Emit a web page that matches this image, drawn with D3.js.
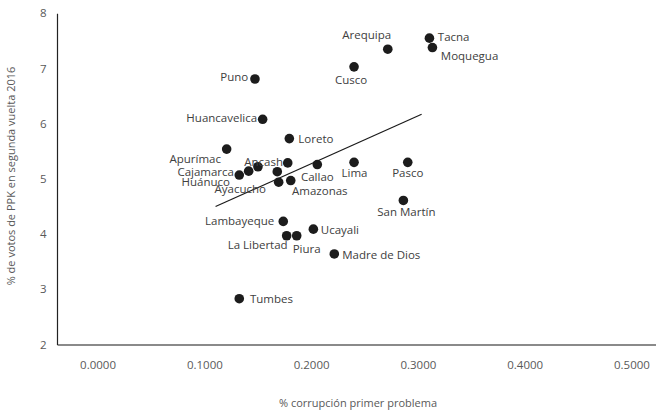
<!DOCTYPE html>
<html>
<head>
<meta charset="utf-8">
<script src="https://cdn.jsdelivr.net/npm/d3@7"></script>
<style>
  body { margin: 0; background: #fff; }
  svg { display: block; font-family: "Open Sans", sans-serif; }
</style>
</head>
<body>
<div class="chart"></div>
<script>
// departments, % corruption as first problem vs % PPK votes (2nd round 2016)
var regions = ["Arequipa", "Tacna", "Moquegua", "Cusco", "Puno", "Huancavelica", "Loreto",
    "Apurímac", "Ancash", "Cajamarca", "Huánuco", "Ayacucho", "Amazonas", "Junín", "Ica",
    "Callao", "Lima", "Pasco", "San Martín", "Lambayeque", "Ucayali", "La Libertad", "Piura",
    "Madre de Dios", "Tumbes"];
var corruption = [0.2718, 0.3108, 0.3136, 0.2402, 0.1474, 0.1546, 0.1796,
    0.1209, 0.1781, 0.1415, 0.1327, 0.1696, 0.1809, 0.1502, 0.1683,
    0.2058, 0.2402, 0.2905, 0.2864, 0.1739, 0.2021, 0.1771, 0.1865,
    0.2217, 0.1327];
var ppkVotes = [7.35, 7.55, 7.38, 7.03, 6.81, 6.08, 5.73,
    5.54, 5.29, 5.14, 5.07, 4.94, 4.97, 5.22, 5.13,
    5.26, 5.30, 5.30, 4.61, 4.23, 4.09, 3.97, 3.97,
    3.64, 2.83];
// trend line end points
var trendX = [0.1105, 0.3035];
var trendY = [4.50, 6.17];
var xTicks = [0, 0.1, 0.2, 0.3, 0.4, 0.5];
var yTicks = [2, 3, 4, 5, 6, 7, 8];

// label placement: [anchor, dx, dy]
var labelPos = {
    "Arequipa": ["middle", -21, -14], "Tacna": ["start", 8.4, -1], "Moquegua": ["start", 8.4, 8],
    "Cusco": ["middle", -3, 13], "Puno": ["end", -6.7, -2], "Huancavelica": ["end", -5.5, -1.6],
    "Loreto": ["start", 9, 0.3], "Apurímac": ["end", -5.7, 9.7], "Ancash": ["end", -4.7, -1],
    "Cajamarca": ["end", -14.7, 0.6], "Huánuco": ["end", -9.3, 7.4], "Ayacucho": ["end", -12.7, 6.6],
    "Amazonas": ["start", 1.3, 10], "Callao": ["middle", 0, 12.4], "Lima": ["middle", 0.5, 11],
    "Pasco": ["middle", 0, 11], "San Martín": ["middle", 3, 11.4], "Lambayeque": ["end", -9, 0],
    "Ucayali": ["start", 7.4, 1], "La Libertad": ["end", 1, 9.6], "Piura": ["start", -4, 13],
    "Madre de Dios": ["start", 8, 1], "Tumbes": ["start", 10.7, 0.6]
};

var svgWidth = 656, svgHeight = 413;
var svg = d3.select(".chart").append("svg")
    .attr("width", svgWidth)
    .attr("height", svgHeight);

var xScale = d3.scaleLinear().domain([-0.038, 0.523]).range([57, 656]);
var yScale = d3.scaleLinear().domain([2, 8]).range([344.5, 13.3]);

// axes
var xAxis = d3.axisBottom(xScale).tickValues(xTicks).tickFormat(d3.format(".4f"))
    .tickSize(0).tickPadding(16.5);
var yAxis = d3.axisLeft(yScale).tickValues(yTicks).tickFormat(d3.format("d"))
    .tickSize(0).tickPadding(10.5);

var gx = svg.append("g").attr("transform", `translate(0, ${yScale(2)})`).call(xAxis);
gx.select(".domain").attr("stroke", "#8a8a8a").attr("stroke-width", 2);
var gy = svg.append("g").attr("transform", `translate(${xScale.range()[0]}, 0)`).call(yAxis);
gy.select(".domain").attr("stroke", "#222").attr("stroke-width", 1.2);
svg.selectAll(".tick text")
    .attr("fill", "#595959")
    .style("font-size", "11.5px")
    .style("font-family", "'Open Sans', sans-serif");

// axis titles
svg.append("text")
    .attr("x", 358).attr("y", 407)
    .attr("text-anchor", "middle")
    .attr("fill", "#595959")
    .style("font-size", "11px")
    .text("% corrupción primer problema");

svg.append("text")
    .attr("transform", "translate(15, 176) rotate(-90)")
    .attr("text-anchor", "middle")
    .attr("fill", "#595959")
    .style("font-size", "11px")
    .text("% de votos de PPK en segunda vuelta 2016");

// trend line
var line = d3.line().x(d => xScale(d[0])).y(d => yScale(d[1]));
svg.append("path")
    .datum(d3.zip(trendX, trendY))
    .attr("d", line)
    .attr("fill", "none")
    .attr("stroke", "#1a1a1a")
    .attr("stroke-width", 1.2);

var data = regions.map((r, i) => ({ name: r, x: corruption[i], y: ppkVotes[i] }));

svg.append("g").selectAll("circle")
    .data(data)
    .enter()
    .append("circle")
    .attr("cx", d => xScale(d.x))
    .attr("cy", d => yScale(d.y))
    .attr("r", 4.8)
    .attr("fill", "#1c1c1c");

svg.append("g").selectAll("text")
    .data(data.filter(d => labelPos[d.name]))
    .enter()
    .append("text")
    .attr("x", d => xScale(d.x) + labelPos[d.name][1])
    .attr("y", d => yScale(d.y) + labelPos[d.name][2])
    .attr("dy", "0.35em")
    .attr("text-anchor", d => labelPos[d.name][0])
    .attr("fill", "#404040")
    .style("font-size", "11.5px")
    .text(d => d.name);
</script>
</body>
</html>
